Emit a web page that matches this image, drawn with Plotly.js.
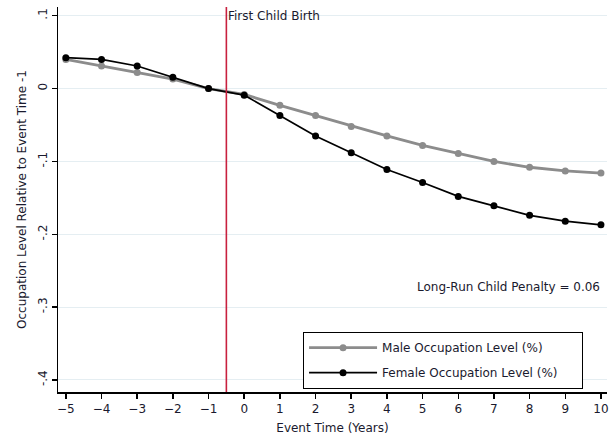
<!DOCTYPE html>
<html>
<head>
<meta charset="utf-8">
<script src="https://cdn.plot.ly/plotly-3.0.1.min.js"></script>
<style>
html,body{margin:0;padding:0;background:#fff;}
#chart{width:610px;height:435px;}
</style>
</head>
<body>
<div id="chart"></div>
<script>
const eventTime = [-5,-4,-3,-2,-1,0,1,2,3,4,5,6,7,8,9,10];
const maleLevel = [0.040,0.031,0.022,0.013,0,-0.008,-0.023,-0.037,-0.052,-0.065,-0.078,-0.089,-0.100,-0.108,-0.113,-0.116];
const femaleLevel = [0.0425,0.040,0.031,0.0155,0,-0.009,-0.037,-0.065,-0.088,-0.111,-0.129,-0.148,-0.161,-0.174,-0.182,-0.187];
const seriesNames = ['Male Occupation Level (%)', 'Female Occupation Level (%)'];
const yTickVals = [0.1,0,-0.1,-0.2,-0.3,-0.4];
const yTickText = ['.1','0','-.1','-.2','-.3','-.4'];
const xTickVals = [-5,-4,-3,-2,-1,0,1,2,3,4,5,6,7,8,9,10];
const birthLine = -0.5;
const birthLabel = 'First Child Birth';
const penaltyLabel = 'Long-Run Child Penalty = 0.06';

const fam = 'DejaVu Sans, Liberation Sans, Arial, sans-serif';
const font = {family: fam, size: 12, color: '#1a1a2e'};
const pad = '\u00a0\u00a0\u00a0\u00a0\u00a0';

const traces = [
  {x: eventTime, y: maleLevel, name: seriesNames[0], mode: 'lines+markers', legendgroup: 'm',
   line: {color: '#8c8c8c', width: 2.8}, marker: {color: '#8c8c8c', size: 7}},
  {x: eventTime, y: femaleLevel, name: seriesNames[1] + pad, mode: 'lines+markers', legendgroup: 'f',
   line: {color: '#000000', width: 1.7}, marker: {color: '#000000', size: 7}}
];

const layout = {
  width: 610, height: 435,
  margin: {l: 58, r: 3, t: 7, b: 43},
  paper_bgcolor: '#ffffff', plot_bgcolor: '#ffffff',
  font: font,
  showlegend: true,
  legend: {x: 0.446, y: 0.156, xanchor: 'left', yanchor: 'top',
    bordercolor: '#000', borderwidth: 1.2, bgcolor: '#fff', itemwidth: 68,
    font: {family: fam, size: 12, color: '#1a1a2e'}, tracegroupgap: 6},
  xaxis: {range: [-5.22, 10.17], tickvals: xTickVals, ticks: 'outside', ticklen: 5, tickwidth: 1.5,
    tickcolor: '#000', showline: true, linecolor: '#000', linewidth: 1.5, showgrid: false,
    ticklabeloverflow: 'allow', tickfont: {size: 12},
    zeroline: false, title: {text: 'Event Time (Years)', font: {size: 12}, standoff: 8}},
  yaxis: {range: [-0.4165, 0.112], tickvals: yTickVals, ticktext: yTickText, tickangle: -90,
    ticks: 'outside', ticklen: 5, tickwidth: 1.5, tickcolor: '#000', showline: true, tickfont: {size: 12},
    linecolor: '#000', linewidth: 1.5, showgrid: true, gridcolor: '#e5eef2', gridwidth: 1,
    zeroline: false, title: {text: 'Occupation Level Relative to Event Time -1', font: {size: 12}, standoff: 6}},
  shapes: [{type: 'line', xref: 'x', yref: 'paper', x0: birthLine, x1: birthLine, y0: 0, y1: 1,
    line: {color: '#c8203f', width: 1.6}}],
  annotations: [
    {x: birthLine, y: 0.1, xref: 'x', yref: 'y', text: birthLabel, showarrow: false,
     xanchor: 'left', yanchor: 'middle', xshift: 0, font: {size: 12}},
    {x: 0.99, y: -0.273, xref: 'paper', yref: 'y', text: penaltyLabel, showarrow: false,
     xanchor: 'right', yanchor: 'middle', font: {size: 12}}
  ]
};

Plotly.newPlot('chart', traces, layout, {displayModeBar: false, staticPlot: true});
</script>
</body>
</html>
